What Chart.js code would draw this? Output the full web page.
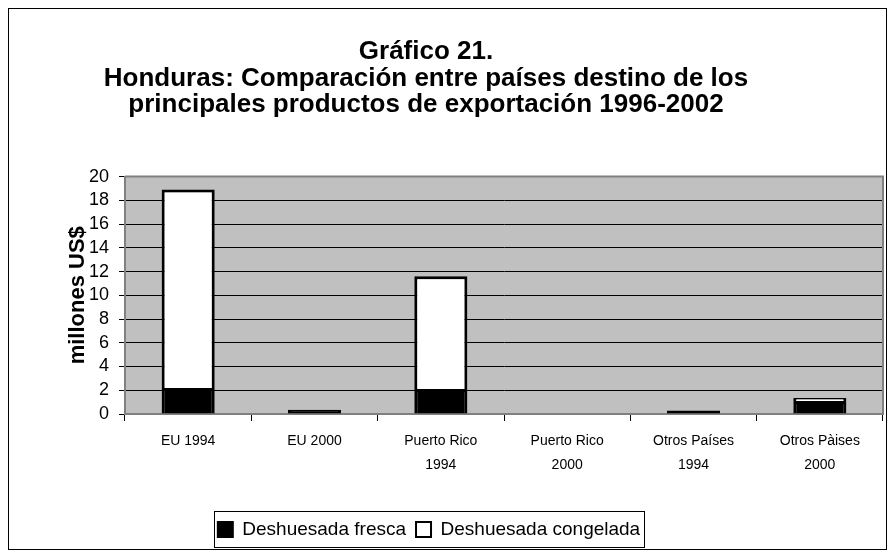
<!DOCTYPE html>
<html>
<head>
<meta charset="utf-8">
<script src="https://cdn.jsdelivr.net/npm/chart.js@4"></script>
<style>
  html, body { margin: 0; padding: 0; background: #fff; }
  #wrap { width: 891px; height: 559px; position: relative; }
</style>
</head>
<body>
<div id="wrap"><canvas id="grafico"></canvas></div>
<script>
// categorias (eje x)
const categorias = [
  'EU 1994',
  'EU 2000',
  ['Puerto Rico', '1994'],
  ['Puerto Rico', '2000'],
  ['Otros Países', '1994'],
  ['Otros Pàises', '2000']
]

// millones US$
const fresca = [2.2, 0.35, 2.1, 0, 0.3, 1.1]
const congelada = [16.7, 0, 9.5, 0, 0, 0.25]

const ticksY = [0, 2, 4, 6, 8, 10, 12, 14, 16, 18, 20]

const tituloLineas = [
  'Gráfico 21.',
  'Honduras: Comparación entre países destino de los',
  'principales productos de exportación 1996-2002'
]

// fondo gris del area de trazado, marco y recuadro de la leyenda
const decoracion = {
  id: 'decoracion',
  afterLayout(chart) {
    // titulo y leyenda no estan centrados sobre el area de trazado
    if (chart.titleBlock) { chart.titleBlock.left = 0; chart.titleBlock.right = 852 }
    if (chart.legend) { chart.legend.left = 0; chart.legend.right = 858 }
  },
  beforeDraw(chart) {
    const { ctx, chartArea } = chart
    ctx.save()
    ctx.fillStyle = '#fff'
    ctx.fillRect(0, 0, chart.width, chart.height)
    ctx.fillStyle = '#C0C0C0'
    ctx.fillRect(chartArea.left, chartArea.top, chartArea.right - chartArea.left, chartArea.bottom - chartArea.top)
    ctx.restore()
  },
  afterDraw(chart) {
    const { ctx, chartArea } = chart
    ctx.save()
    ctx.strokeStyle = '#808080'
    ctx.lineWidth = 2
    ctx.beginPath()
    ctx.moveTo(chartArea.left, chartArea.top)
    ctx.lineTo(chartArea.right, chartArea.top)
    ctx.lineTo(chartArea.right, chartArea.bottom)
    ctx.stroke()
    // marco exterior
    ctx.strokeStyle = '#000'
    ctx.lineWidth = 1
    ctx.strokeRect(8.5, 8.5, 878, 541)
    // recuadro de la leyenda
    const cajas = chart.legend.legendHitBoxes
    if (cajas && cajas.length) {
      const ult = cajas[cajas.length - 1]
      const izq = cajas[0].left - 4
      const der = ult.left + ult.width + 4
      const arriba = cajas[0].top - 9
      const abajo = cajas[0].top + cajas[0].height + 8
      ctx.strokeRect(Math.round(izq) + 0.5, Math.round(arriba) + 0.5, Math.round(der - izq), Math.round(abajo - arriba))
    }
    ctx.restore()
  }
}

new Chart(
  document.getElementById('grafico'),
  {
    type: 'bar',
    data: {
      labels: categorias,
      datasets: [
        {
          label: 'Deshuesada fresca',
          data: fresca,
          backgroundColor: '#000000',
          borderColor: '#000000',
          borderWidth: 3
        },
        {
          label: 'Deshuesada congelada',
          data: congelada,
          backgroundColor: '#FFFFFF',
          borderColor: '#000000',
          borderWidth: 3
        }
      ]
    },
    options: {
      responsive: true,
      maintainAspectRatio: false,
      animation: false,
      datasets: {
        bar: { barPercentage: 0.42, categoryPercentage: 1 }
      },
      layout: { padding: { left: 4, right: 8, top: 0, bottom: 10 } },
      plugins: {
        title: {
          display: true,
          text: tituloLineas,
          color: '#000',
          font: { family: 'Liberation Sans, Arial', size: 26, weight: 'bold', lineHeight: 1.02 },
          padding: { top: 39, bottom: 58 }
        },
        legend: {
          position: 'bottom',
          labels: {
            color: '#000',
            font: { family: 'Liberation Sans, Arial', size: 19 },
            boxWidth: 15,
            boxHeight: 15,
            padding: 10,
            generateLabels(chart) {
              return chart.data.datasets.map((d, i) => ({
                text: d.label,
                fillStyle: d.backgroundColor,
                strokeStyle: '#000',
                lineWidth: 2,
                datasetIndex: i
              }))
            }
          }
        },
        tooltip: { enabled: false }
      },
      scales: {
        x: {
          stacked: true,
          grid: {
            offset: true,
            drawOnChartArea: false,
            color: '#000',
            tickLength: 7
          },
          border: { color: '#808080', width: 2 },
          ticks: {
            color: '#000',
            font: { family: 'Liberation Sans, Arial', size: 14, lineHeight: 1.7 },
            maxRotation: 0,
            padding: 8
          },
          afterFit(scale) { scale.height = 96 }
        },
        y: {
          stacked: true,
          min: 0,
          max: 20,
          afterBuildTicks(scale) { scale.ticks = ticksY.map(v => ({ value: v })) },
          grid: {
            color: '#000',
            tickLength: 6,
            lineWidth: 1
          },
          border: { color: '#808080', width: 2 },
          ticks: {
            color: '#000',
            font: { family: 'Liberation Sans, Arial', size: 18 },
            padding: 10,
            autoSkip: false
          },
          title: {
            display: true,
            text: 'millones US$',
            color: '#000',
            font: { family: 'Liberation Sans, Arial', size: 22, weight: 'bold' },
            padding: { top: 61, bottom: 4 }
          },
          afterFit(scale) { scale.width = 121 }
        }
      }
    },
    plugins: [decoracion]
  }
)
</script>
</body>
</html>
